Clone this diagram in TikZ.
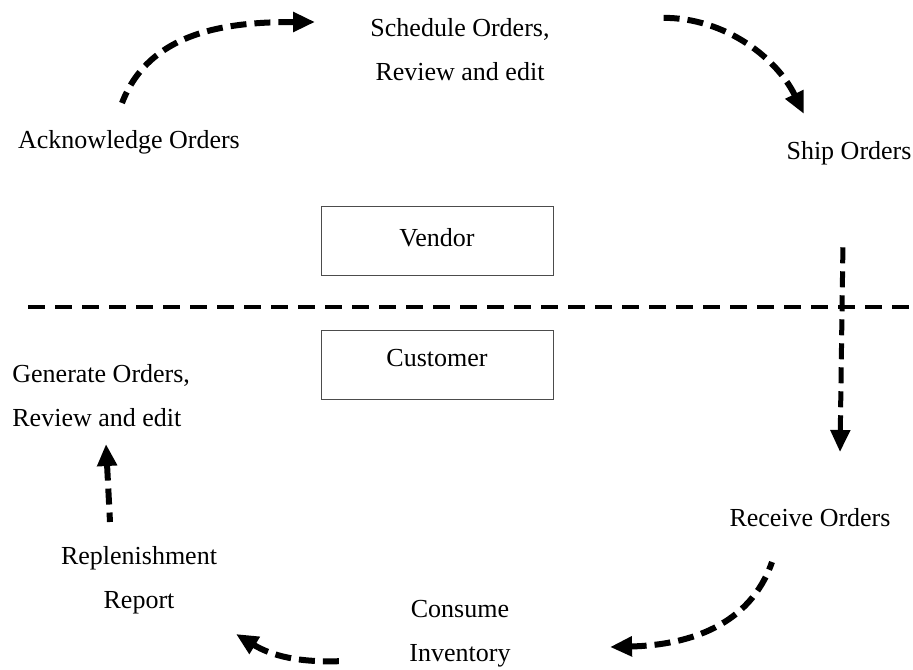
\documentclass[tikz,border=0pt]{standalone}
\usepackage{fontspec}
\setmainfont{Liberation Serif}
\usetikzlibrary{arrows.meta}
\begin{document}
\begin{tikzpicture}[
            x=0.5pt, y=-0.5pt,
            every node/.style={font=\fontsize{13}{22}\selectfont, inner sep=0pt},
            % drawn from the head back, so that a dash meets the tip
            flow/.style={line width=3pt, dash pattern=on 8pt off 4pt, {Triangle[length=11pt,width=9.5pt]}-},
            party/.style={draw=black!70, line width=0.5pt, minimum width=116pt, minimum height=34.5pt}
            ]
            \useasboundingbox (0,0) rectangle (913,669);
            % steps of the cycle
            \node[align=center] (schedule) at (460,50) {Schedule Orders,\\Review and edit};
            \node (ack) at (129,142) {Acknowledge Orders};
            \node (ship) at (849,153) {Ship Orders};
            \node (receive) at (810,518) {Receive Orders};
            \node[align=center] (consume) at (460,634) {Consume\\Inventory};
            \node[align=center] (replen) at (139,580) {Replenishment\\Report};
            \node[align=left, anchor=west] (generate) at (12,396) {Generate Orders,\\Review and edit};
            % the two sides
            \node[party] (vendor) at (437,240.5) {};
            \node at (437,238) {Vendor};
            \node[party] (customer) at (437,364.5) {};
            \node at (437,358) {Customer};
            \coordinate (divL) at (28,307);
            \coordinate (divR) at (913,307);
            \draw[line width=2pt, dash pattern=on 8.5pt off 5pt] (divL) -- (divR);
            % arrow ends
            \coordinate (a1) at (122,103); \coordinate (b1) at (315,22);
            \coordinate (a2) at (657,18);  \coordinate (b2) at (804,114);
            \coordinate (a3) at (843,241); \coordinate (b3) at (840,452);
            \coordinate (a4) at (772,562); \coordinate (b4) at (610,647);
            \coordinate (a5) at (344,661); \coordinate (b5) at (236,634);
            \coordinate (a6) at (110,522); \coordinate (b6) at (106,444);
            \draw[flow] (b1) .. controls (230,22) and (150,30) .. (a1);
            \draw[flow] (b2) .. controls (775,55) and (720,15) .. (a2);
            \draw[flow, line width=2.5pt] (b3) -- (a3);
            \draw[flow] (b4) .. controls (690,645) and (750,625) .. (a4);
            \draw[flow] (b5) .. controls (272,656) and (300,663) .. (a5);
            \draw[flow] (b6) -- (a6);
        \end{tikzpicture}
\end{document}
